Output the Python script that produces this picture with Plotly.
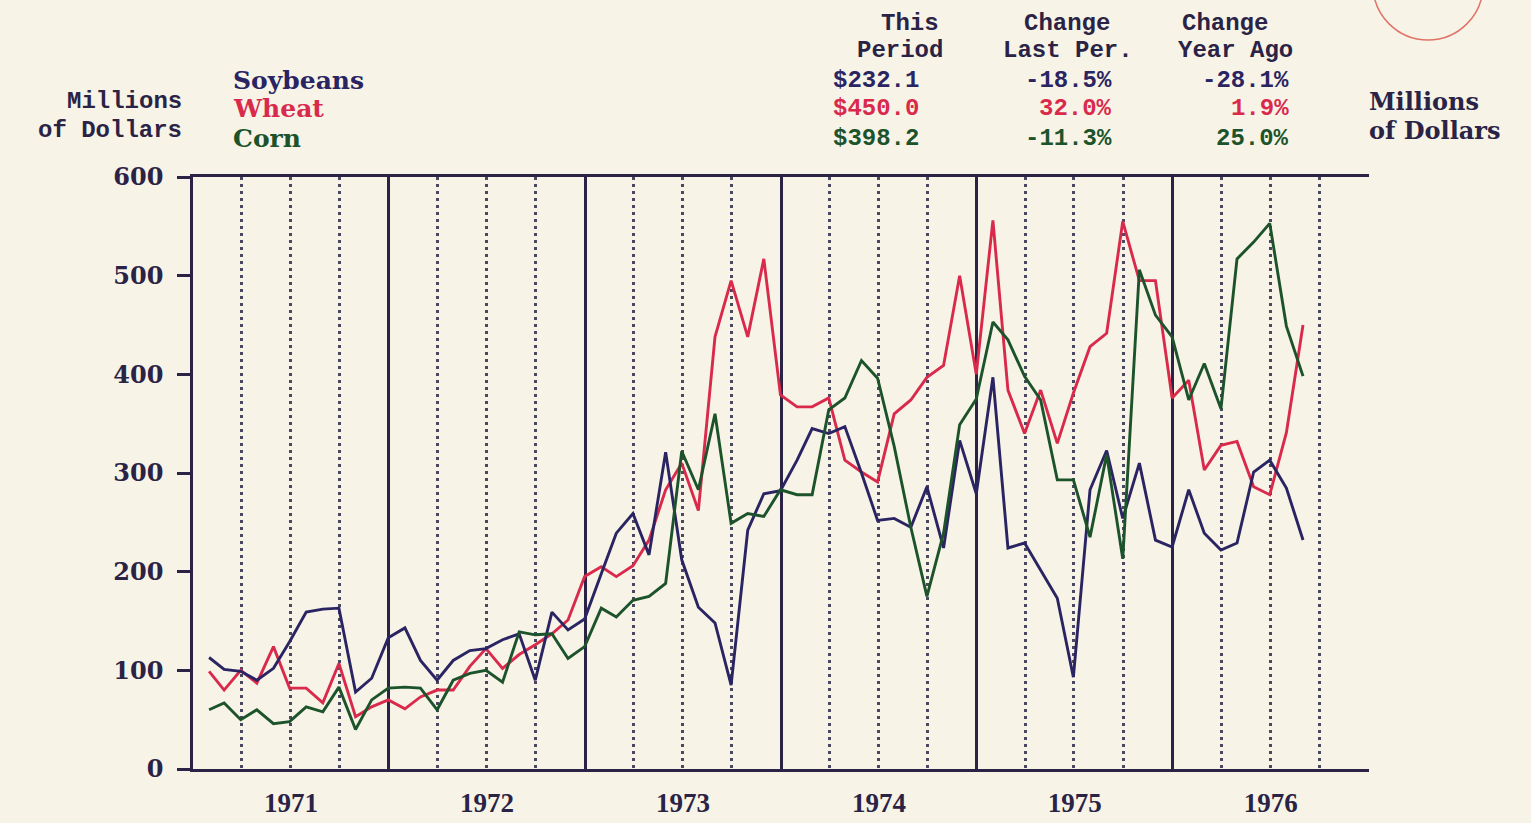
import plotly.graph_objects as go
import pandas as pd

# monthly export values, millions of dollars (Jan 1971 - Aug 1976)
months = pd.date_range('1971-01-31', periods=68, freq=pd.offsets.MonthEnd())
months = [d.strftime('%Y-%m-%d') for d in months]

soybeans = [113, 101, 99, 90, 102, 129, 159, 162, 163, 78, 92, 133,
            143, 110, 90, 110, 120, 122, 131, 137, 90, 159, 141, 152,
            198, 239, 259, 217, 321, 212, 164, 148, 85, 242, 279, 282,
            313, 345, 340, 347, 300, 252, 254, 245, 286, 224, 333, 279,
            397, 224, 229, 202, 173, 93, 283, 322.8, 254, 310, 232, 225,
            283, 239, 222, 229, 301, 313, 284.8, 232.1]

wheat = [99, 80, 100, 87, 124, 82, 82, 67, 107, 53, 63, 70,
         61, 73, 80, 80, 104, 122, 102, 116, 126, 137, 151, 195,
         205, 195, 206, 232, 283, 310, 262, 438, 495, 438, 517, 379,
         367, 367, 376, 313, 301, 291, 360, 374, 397, 409, 500, 400,
         556, 384, 340, 384, 330, 381, 428, 441.6, 555, 495, 495, 376,
         394, 303, 328, 332, 286, 278, 340.9, 450.0]

corn = [60, 67, 50, 60, 46, 48, 63, 58, 83, 40, 70, 82,
        83, 82, 60, 90, 97, 100, 88, 139, 136, 137, 112, 124,
        163, 154, 171, 175, 188, 322, 283, 360, 249, 259, 256, 283,
        278, 278, 364, 376, 414, 396, 327, 245, 175, 239, 349, 375,
        453, 435, 398, 374, 293, 293, 235, 318.6, 213, 506, 460, 438,
        374, 411, 365, 517, 534, 553, 448.9, 398.2]

names = ['Soybeans', 'Wheat', 'Corn']
this_period = [232.1, 450.0, 398.2]
change_last = [-18.5, 32.0, -11.3]
change_year = [-28.1, 1.9, 25.0]

colors = {'Soybeans': '#2a2462', 'Wheat': '#d92a4c', 'Corn': '#1c532b'}
series = {'Soybeans': soybeans, 'Wheat': wheat, 'Corn': corn}

BG = '#f7f3e7'
INK = '#2a2345'
MONO = 'Liberation Mono'
SERIF = 'DejaVu Serif'

fig = go.Figure()

for name in ['Wheat', 'Soybeans', 'Corn']:
    fig.add_trace(go.Scatter(x=months, y=series[name], mode='lines', name=name,
                             line=dict(color=colors[name], width=2.9)))

# plot area in pixels: x 193..1369, y 177..769
def px(x):
    return (x - 193) / 1176

def py(y):
    return (769 - y) / 592

ann = []

def txt(s, x, y, anchor, color=INK, family=MONO, size=24):
    ann.append(dict(text=s, x=px(x), y=py(y), xref='paper', yref='paper',
                    xanchor=anchor, yanchor='middle', showarrow=False,
                    font=dict(family=family, size=size, color=color, weight='bold')))

# axis titles
txt('Millions', 184, 101, 'right')
txt('of Dollars', 184, 130, 'right')
txt('Millions', 1367, 101, 'left', family=SERIF, size=24)
txt('of Dollars', 1367, 130, 'left', family=SERIF, size=24)

# column headers
txt('This', 910, 23, 'center')
txt('Period', 900, 51, 'center')
txt('Change', 1067, 23, 'center')
txt('Last Per.', 1068, 51, 'center')
txt('Change', 1225, 23, 'center')
txt('Year Ago', 1235, 51, 'center')

rows_y = [80, 109, 139]
for i, name in enumerate(names):
    c = colors[name]
    txt(name, 231, rows_y[i], 'left', color=c, family=SERIF, size=25)
    txt('$%.1f' % this_period[i], 831, rows_y[i], 'left', color=c)
    txt('%.1f%%' % change_last[i], 1114, rows_y[i], 'right', color=c)
    txt('%.1f%%' % change_year[i], 1291, rows_y[i], 'right', color=c)

yax = dict(range=[0, 600], dtick=100, ticks='outside', ticklen=13, tickwidth=2.5,
           tickcolor=INK, showline=True, linecolor=INK, linewidth=2.5,
           showgrid=False, zeroline=False, automargin=False,
           tickfont=dict(family=SERIF, size=24, color=INK, weight='bold'))

fig.update_layout(
    width=1531, height=823,
    margin=dict(l=193, r=162, t=177, b=54),
    paper_bgcolor=BG, plot_bgcolor=BG,
    showlegend=False,
    annotations=ann,
    xaxis=dict(type='date', range=['1971-01-01', '1977-01-01'],
               tick0='1971-01-01', dtick='M12', ticklabelmode='period',
               tickformat='%Y', ticks='', showline=True, linecolor=INK,
               linewidth=2.5, mirror=True, automargin=False,
               showgrid=True, gridcolor=INK, gridwidth=2.8,
               minor=dict(tick0='1971-01-01', dtick='M3', showgrid=True,
                          gridcolor='#4a4860', gridwidth=2.5, griddash='3px,4px'),
               ticklabelstandoff=8,
               tickfont=dict(family='Liberation Serif', size=27, color=INK, weight='bold')),
    yaxis=dict(**yax, side='left', ticklabelstandoff=9),
    yaxis2=dict(**yax, side='right', overlaying='y', anchor='x', ticklabelstandoff=6),
    shapes=[dict(type='circle', xref='paper', yref='paper',
                 x0=px(1373), x1=px(1483), y0=py(40), y1=py(-70),
                 line=dict(color='#e07468', width=1.5))],
)

fig.write_html('out.html', config={'displayModeBar': False},
               post_script="document.body.style.margin='0';"
                           "document.body.style.background='%s';" % BG)
